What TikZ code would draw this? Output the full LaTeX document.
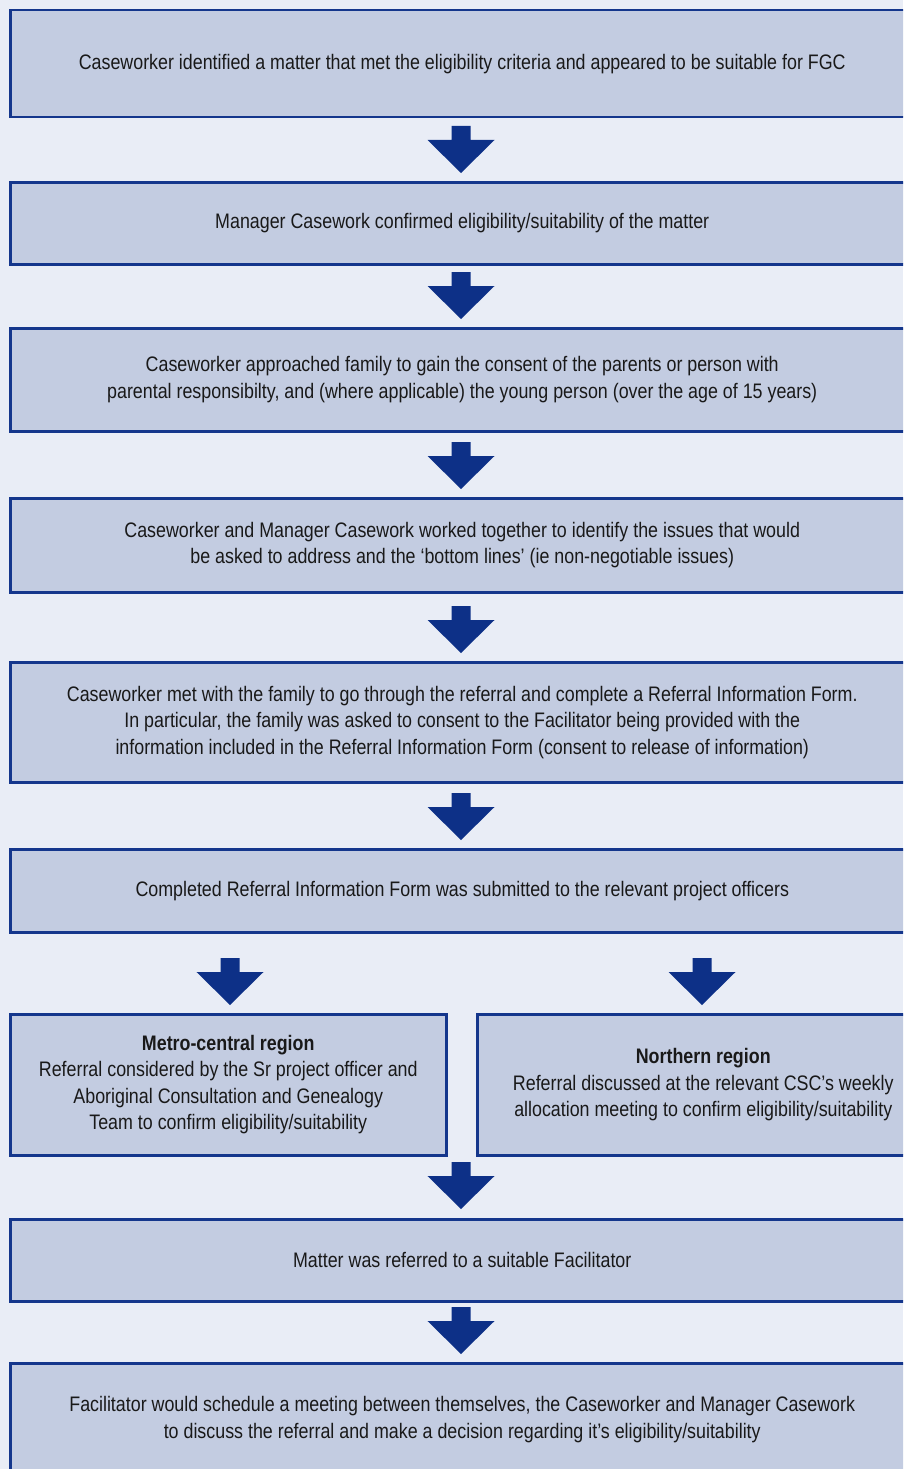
\documentclass[tikz,border=0pt]{standalone}
\usepackage{fontspec}
\setmainfont{Liberation Sans}[FakeStretch=0.85]
\definecolor{bgcol}{RGB}{233,237,246}
\definecolor{boxfill}{RGB}{195,204,225}
\definecolor{boxline}{RGB}{20,54,140}
\definecolor{arrowcol}{RGB}{13,48,135}
\definecolor{txtcol}{RGB}{25,25,25}
\tikzset{
  stepbox/.style={draw=boxline, fill=boxfill, line width=2.5pt, inner sep=0pt,
    anchor=north west, align=center, text=txtcol,
    font=\fontsize{21}{26.5}\selectfont},
  blockarrow/.style={fill=arrowcol}
}
\newcommand{\blockarr}[1]{\fill[blockarrow] (#1) ++(-9.5,0) -- ++(19,0) -- ++(0,14) -- ++(24,0) -- ++(-33.5,33) -- ++(-33.5,-33) -- ++(24,0) -- cycle;}
\begin{document}
\begin{tikzpicture}[x=1pt,y=-1pt]
\useasboundingbox (0,0) rectangle (903,1469);
\clip (0,0) rectangle (903,1469);
\fill[bgcol] (0,0) rectangle (903,1469);

\node[stepbox, minimum width=904, minimum height=107] (b1) at (9,9)
  {Caseworker identified a matter that met the eligibility criteria and appeared to be suitable for FGC};
\node[stepbox, minimum width=904, minimum height=82] (b2) at (9,181)
  {Manager Casework confirmed eligibility/suitability of the matter};
\node[stepbox, minimum width=904, minimum height=103] (b3) at (9,327)
  {Caseworker approached family to gain the consent of the parents or person with\\parental responsibilty, and (where applicable) the young person (over the age of 15 years)};
\node[stepbox, minimum width=904, minimum height=94] (b4) at (9,497)
  {Caseworker and Manager Casework worked together to identify the issues that would\\be asked to address and the ‘bottom lines’ (ie non-negotiable issues)};
\node[stepbox, minimum width=904, minimum height=120] (b5) at (9,661)
  {Caseworker met with the family to go through the referral and complete a Referral Information Form.\\In particular, the family was asked to consent to the Facilitator being provided with the\\information included in the Referral Information Form (consent to release of information)};
\node[stepbox, minimum width=904, minimum height=83] (b6) at (9,848)
  {Completed Referral Information Form was submitted to the relevant project officers};
\node[stepbox, minimum width=436, minimum height=141] (bl) at (9,1013)
  {\textbf{Metro-central region}\\Referral considered by the Sr project officer and\\Aboriginal Consultation and Genealogy\\Team to confirm eligibility/suitability};
\node[stepbox, minimum width=452, minimum height=141] (br) at (476,1013)
  {\textbf{Northern region}\\Referral discussed at the relevant CSC’s weekly\\allocation meeting to confirm eligibility/suitability};
\node[stepbox, minimum width=904, minimum height=82] (b7) at (9,1218)
  {Matter was referred to a suitable Facilitator};
\node[stepbox, minimum width=904, minimum height=113] (b8) at (9,1362)
  {Facilitator would schedule a meeting between themselves, the Caseworker and Manager Casework\\to discuss the referral and make a decision regarding it’s eligibility/suitability};

\coordinate (a1) at (461,126);
\coordinate (a2) at (461,272);
\coordinate (a3) at (461,442);
\coordinate (a4) at (461,606);
\coordinate (a5) at (461,793);
\coordinate (al) at (230,958);
\coordinate (ar) at (702,958);
\coordinate (a7) at (461,1162);
\coordinate (a8) at (461,1307);
\blockarr{a1}
\blockarr{a2}
\blockarr{a3}
\blockarr{a4}
\blockarr{a5}
\blockarr{al}
\blockarr{ar}
\blockarr{a7}
\blockarr{a8}
\end{tikzpicture}
\end{document}
